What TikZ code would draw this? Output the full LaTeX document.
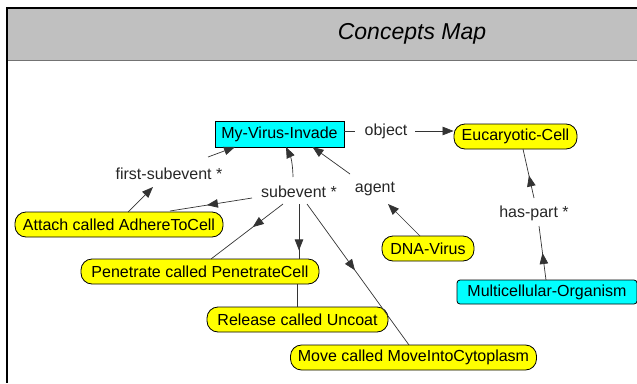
\documentclass[tikz,border=0pt]{standalone}
\usepackage{fontspec}
\setmainfont{Liberation Sans}
\usetikzlibrary{arrows.meta,decorations.markings}
\definecolor{hdr}{HTML}{C0C0C0}
\definecolor{cy}{HTML}{00FFFF}
\definecolor{yl}{HTML}{FFFF00}
\tikzset{
  txtbase/.style={font=\fontsize{16}{19}\selectfont, inner sep=0pt, text=black},
  concept/.style={txtbase, draw=black, fill=yl, rounded corners=11pt, minimum height=25pt, line width=0.8pt},
  cls/.style={txtbase, draw=black, fill=cy, minimum height=25pt, line width=0.8pt},
  lbl/.style={txtbase, text=black!85},
  conn/.style={draw=black!80, line width=0.7pt},
  tip/.style={-{Triangle[length=11pt,width=8.5pt]}},
  midtip/.style={postaction={decorate}, decoration={markings, mark=at position #1 with {\arrow{Triangle[length=11pt,width=8.5pt]}}}},
}
\begin{document}
\begin{tikzpicture}[x=1pt,y=-1pt]
\useasboundingbox (0,0) rectangle (637,383);
% header
\fill[hdr] (7,8) rectangle (637,61);
\draw[black!55, line width=1pt] (7,60.5) -- (637,60.5);
\draw[black, line width=1.5pt] (637,8) -- (7,8) -- (7,383);
\node[font=\fontsize{23}{27}\selectfont\itshape] (title) at (412,34) {Concepts Map};

% nodes
\node[cls, minimum width=129pt, minimum height=26pt] (inv) at (279.5,134) {My-Virus-Invade};
\node[concept, minimum width=123pt] (euc) at (515.5,136.5) {Eucaryotic-Cell};
\node[concept, minimum width=208pt] (att) at (119,224.5) {Attach called AdhereToCell};
\node[concept, minimum width=92pt] (dna) at (428,248.5) {DNA-Virus};
\node[concept, minimum width=238pt] (pen) at (200,271.5) {Penetrate called PenetrateCell};
\node[concept, minimum width=181pt] (rel) at (297.5,319.5) {Release called Uncoat};
\node[concept, minimum width=246pt] (mov) at (413.5,357.5) {Move called MoveIntoCytoplasm};
\node[cls, rounded corners=3pt, minimum width=180pt, minimum height=24pt] (mul) at (547,292) {Multicellular-Organism};

% labels
\node[lbl] (obj) at (386,131) {object};
\node[lbl] (fs) at (169,174) {first-subevent *};
\node[lbl] (se) at (299,192) {subevent *};
\node[lbl] (ag) at (375,189) {agent};
\node[lbl] (hp) at (534,213) {has-part *};

% connectors
\draw[conn] (inv.east |- obj.center) -- ([shift={(-31,0)}]obj.center);
\draw[conn, tip] ([shift={(29,0)}]obj.center) -- (euc.west |- obj.center);
\draw[conn, tip] ([shift={(9,-12.5)}]att.center) -- ([shift={(-16,13)}]fs.center);
\draw[conn, tip] ([shift={(39,-17)}]fs.center) -- ([shift={(-44.5,13)}]inv.center);
\draw[conn, midtip=0.55] ([shift={(-47,6)}]se.center) -- ([shift={(51,-13.5)}]att.center);
\draw[conn, tip] ([shift={(-6,-15)}]se.center) to[bend right=12] ([shift={(6.5,13)}]inv.center);
\draw[conn, tip] ([shift={(-25,-15)}]ag.center) -- ([shift={(33,13)}]inv.center);
\draw[conn, tip] ([shift={(-8,-12.5)}]dna.center) -- ([shift={(13,15)}]ag.center);
\draw[conn, midtip=0.42] ([shift={(-16,12)}]se.center) -- ([shift={(11,-12.5)}]pen.center);
\draw[conn, midtip=0.85] ([shift={(0,12)}]se.center) -- (se.center |- pen.north);
\draw[conn, midtip=0.47] ([shift={(8,12)}]se.center) -- ([shift={(-4.5,-12.5)}]mov.center);
\draw[conn] (rel.north) -- (rel.north |- pen.south);
\draw[conn, midtip=0.5] ([shift={(-1,-12)}]mul.center) -- ([shift={(5,13)}]hp.center);
\draw[conn, midtip=0.46] ([shift={(0,-15)}]hp.center) -- ([shift={(7.5,12.5)}]euc.center);
\end{tikzpicture}
\end{document}
